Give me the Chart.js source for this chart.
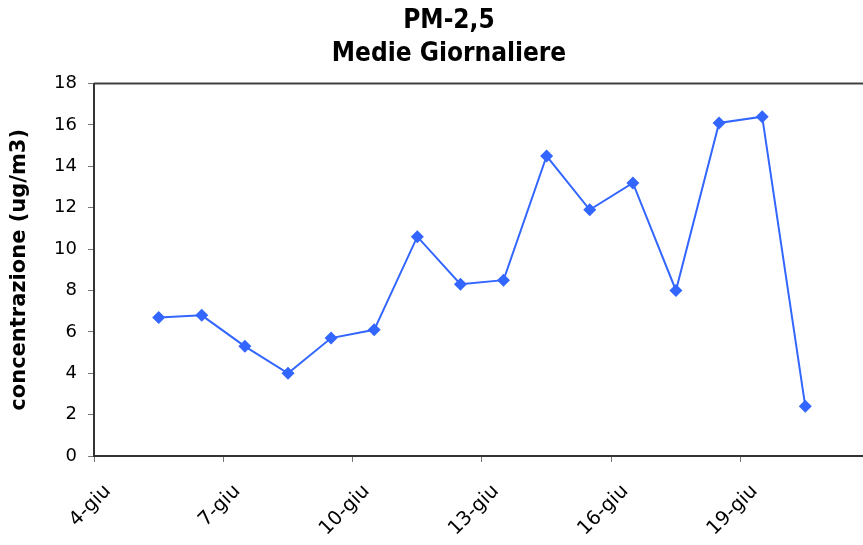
<!DOCTYPE html>
<html>
<head>
<meta charset="utf-8">
<script src="https://cdn.jsdelivr.net/npm/chart.js@4.4.1/dist/chart.umd.min.js"></script>
<style>
  html, body { margin: 0; padding: 0; background: #fff; overflow: hidden; }
  #wrap { width: 898px; height: 545px; }
</style>
</head>
<body>
<div id="wrap"><canvas id="pmChart"></canvas></div>
<script>
// Data (giorni di giugno, medie giornaliere PM-2,5)
const days = [5, 6, 7, 8, 9, 10, 11, 12, 13, 14, 15, 16, 17, 18, 19, 20];
const pm25 = [6.7, 6.8, 5.3, 4.0, 5.7, 6.1, 10.6, 8.3, 8.5, 14.5, 11.9, 13.2, 8.0, 16.1, 16.4, 2.4];
const tickDays = [4, 7, 10, 13, 16, 19];
const yTicks = [0, 2, 4, 6, 8, 10, 12, 14, 16, 18];

const FONT = "'DejaVu Sans', Verdana, sans-serif";
const TITLE_FONT = "'DejaVu Sans Condensed', 'Liberation Sans Narrow', 'DejaVu Sans', sans-serif";
const lineColor = '#3366ff';

// frame on top/right of the plot area
const frame = {
    id: 'frame',
    afterDraw(chart) {
        const { ctx, chartArea: a } = chart;
        ctx.save();
        ctx.strokeStyle = '#404040';
        ctx.lineWidth = 2;
        ctx.beginPath();
        ctx.moveTo(a.left, a.top);
        ctx.lineTo(a.right, a.top);
        ctx.lineTo(a.right, a.bottom);
        ctx.stroke();
        ctx.restore();
    }
};

const ctx = document.getElementById('pmChart').getContext('2d');
new Chart(ctx, {
    type: 'line',
    data: {
        datasets: [{
            label: 'PM-2,5',
            // points placed at midday of each day
            data: days.map((d, i) => ({ x: d + 0.5, y: pm25[i] })),
            borderColor: lineColor,
            backgroundColor: lineColor,
            borderWidth: 2,
            pointStyle: 'rectRot',
            pointRadius: 6.5,
            pointBorderWidth: 0,
            tension: 0
        }]
    },
    options: {
        responsive: true,
        maintainAspectRatio: false,
        animation: false,
        layout: { padding: { top: 4, right: 0, bottom: 0, left: 0 } },
        plugins: {
            legend: { display: false },
            tooltip: { enabled: false },
            title: {
                display: true,
                text: ['PM-2,5', 'Medie Giornaliere'],
                color: '#000',
                font: { family: TITLE_FONT, size: 26, weight: 'bold', lineHeight: 1.3 },
                padding: { top: 0, bottom: 12 }
            }
        },
        scales: {
            x: {
                type: 'linear',
                min: 4,
                max: 22.5,
                afterBuildTicks: axis => { axis.ticks = tickDays.map(v => ({ value: v })); },
                afterFit: axis => { axis.height = 89; },
                grid: { drawOnChartArea: false, drawTicks: true, tickLength: 6, color: '#777' },
                border: { display: true, color: '#333', width: 2 },
                ticks: {
                    color: '#000',
                    font: { family: FONT, size: 19.5 },
                    maxRotation: 45,
                    minRotation: 45,
                    labelOffset: 14,
                    padding: 18,
                    callback: v => v + '-giu'
                }
            },
            y: {
                min: 0,
                max: 18,
                afterBuildTicks: axis => { axis.ticks = yTicks.map(v => ({ value: v })); },
                afterFit: axis => { axis.width = 94; },
                grid: { drawOnChartArea: false, drawTicks: true, tickLength: 6, color: '#777' },
                border: { display: true, color: '#333', width: 2 },
                ticks: {
                    color: '#000',
                    font: { family: FONT, size: 18 },
                    padding: 11
                },
                title: {
                    display: true,
                    text: 'concentrazione (ug/m3)',
                    color: '#000',
                    font: { family: FONT, size: 21, weight: 'bold' },
                    padding: { top: 7, bottom: 10 }
                }
            }
        }
    },
    plugins: [frame]
});
</script>
</body>
</html>
